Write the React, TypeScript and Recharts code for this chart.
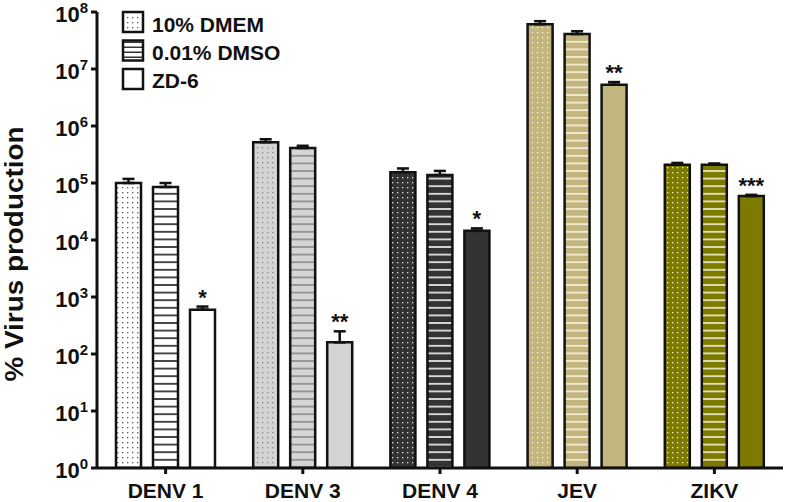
import { BarChart, Bar, XAxis, YAxis, Cell, ErrorBar, LabelList, Legend } from 'recharts';

const categories = ['DENV 1', 'DENV 3', 'DENV 4', 'JEV', 'ZIKV'];
const dmem = [1.0e5, 5.2e5, 1.55e5, 6.1e7, 2.1e5];
const dmemErr = [1.8e4, 6.5e4, 2.5e4, 8e6, 1.5e4];
const dmso = [8.5e4, 4.1e5, 1.38e5, 4.1e7, 2.1e5];
const dmsoErr = [1.5e4, 4e4, 2.5e4, 5e6, 1e4];
const zd6 = [600, 160, 1.45e4, 5.3e6, 5.9e4];
const zd6Err = [80, 90, 1.5e3, 6e5, 3e3];
const stars = ['*', '**', '*', '**', '***'];
const seriesNames = ['10% DMEM', '0.01% DMSO', 'ZD-6'];
const yTicks = [1, 10, 100, 1e3, 1e4, 1e5, 1e6, 1e7, 1e8];

const groupColors = ['#ffffff', '#d4d4d4', '#333333', '#c2b57e', '#7d7a00'];
const dotColors = ['#555555', '#8a8a8a', '#e0e0e0', '#f6f2dc', '#f0f0d8'];
const lineColors = ['#222222', '#8a8a8a', '#f4f4f4', '#f6f2dc', '#f0f0d8'];

const FONT = '"Liberation Sans", Arial, sans-serif';

const data = categories.map((name, i) => ({
  name,
  dmem: dmem[i],
  dmemErr: [0, dmemErr[i]],
  dmso: dmso[i],
  dmsoErr: [0, dmsoErr[i]],
  zd6: zd6[i],
  zd6Err: [0, zd6Err[i]],
}));

const YTick = ({ x, y, payload }: any) => {
  const exp = Math.round(Math.log10(payload.value));
  return (
    <text x={x} y={y + 10} textAnchor="end" fontFamily={FONT} fontWeight="bold" fontSize={22} fill="#111">
      <tspan>10</tspan>
      <tspan dy={-9} fontSize={15}>{exp}</tspan>
    </text>
  );
};

const XTick = ({ x, y, payload }: any) => (
  <text x={x} y={y + 22} textAnchor="middle" fontFamily={FONT} fontWeight="bold" fontSize={21} fill="#111">
    {payload.value}
  </text>
);

// stars sit just above the error cap; cap offset from the bar's own log geometry
const renderStar = (props: any) => {
  const { x, y, width, height, index } = props;
  const v = zd6[index];
  const e = zd6Err[index];
  const pxPerDecade = height / Math.log10(v);
  const capY = y - Math.log10((v + e) / v) * pxPerDecade;
  return (
    <text x={x + width / 2} y={capY - 2} textAnchor="middle" fontFamily={FONT} fontWeight="bold" fontSize={22} fill="#111">
      {stars[index]}
    </text>
  );
};

const swatchFills = ['url(#dots-0)', 'url(#lines-legend)', '#ffffff'];

const renderLegend = () => (
  <svg width={300} height={100} style={{ display: 'block' }}>
    {seriesNames.map((name, i) => (
      <g key={name}>
        <rect x={123} y={12 + i * 28.5} width={20} height={20} fill={swatchFills[i]} stroke="#111" strokeWidth={2.5} />
        <text x={152} y={32 + i * 28} fontFamily={FONT} fontWeight="bold" fontSize={21} fill="#111">
          {name}
        </text>
      </g>
    ))}
  </svg>
);

export default function App() {
  return (
    <div style={{ position: 'absolute', left: 0, top: 0, background: '#fff' }}>
      <BarChart
        width={787}
        height={502}
        data={data}
        margin={{ top: 12, right: 4, left: 30, bottom: 4 }}
        barSize={25}
        barGap={12}
      >
        <defs>
          {groupColors.map((c, i) => (
            <pattern key={`d${i}`} id={`dots-${i}`} width={5} height={5} patternUnits="userSpaceOnUse">
              <rect width={5} height={5} fill={c} />
              <rect x={2} y={2} width={1.3} height={1.3} fill={dotColors[i]} />
            </pattern>
          ))}
          {groupColors.map((c, i) => (
            <pattern key={`l${i}`} id={`lines-${i}`} width={8} height={7.6} patternUnits="userSpaceOnUse">
              <rect width={8} height={7.6} fill={c} />
              <rect y={3} width={8} height={1.6} fill={lineColors[i]} />
            </pattern>
          ))}
          <pattern id="lines-legend" width={8} height={5} patternUnits="userSpaceOnUse">
            <rect width={8} height={5} fill="#fff" />
            <rect y={1.5} width={8} height={1.5} fill="#333" />
          </pattern>
        </defs>
        <XAxis
          dataKey="name"
          height={30}
          axisLine={{ stroke: '#111', strokeWidth: 3 }}
          tickLine={{ stroke: '#111', strokeWidth: 3 }}
          tickSize={6}
          tickMargin={2}
          tick={<XTick />}
          interval={0}
        />
        <YAxis
          scale="log"
          domain={[1, 1e8]}
          ticks={yTicks}
          allowDataOverflow
          width={67}
          axisLine={{ stroke: '#111', strokeWidth: 3 }}
          tickLine={{ stroke: '#111', strokeWidth: 3 }}
          tickSize={6}
          tickMargin={3}
          tick={<YTick />}
          interval={0}
        />
        <Legend
          layout="horizontal"
          verticalAlign="middle"
          align="center"
          wrapperStyle={{ top: 0, left: 0, width: 300, height: 100 }}
          content={renderLegend}
        />
        <Bar dataKey="dmem" name={seriesNames[0]} stroke="#111" strokeWidth={2.5} isAnimationActive={false}>
          {data.map((_, i) => (
            <Cell key={i} fill={`url(#dots-${i})`} />
          ))}
          <ErrorBar dataKey="dmemErr" width={6} stroke="#111" strokeWidth={2.5} />
        </Bar>
        <Bar dataKey="dmso" name={seriesNames[1]} stroke="#111" strokeWidth={2.5} isAnimationActive={false}>
          {data.map((_, i) => (
            <Cell key={i} fill={`url(#lines-${i})`} />
          ))}
          <ErrorBar dataKey="dmsoErr" width={6} stroke="#111" strokeWidth={2.5} />
        </Bar>
        <Bar dataKey="zd6" name={seriesNames[2]} stroke="#111" strokeWidth={2.5} isAnimationActive={false}>
          {data.map((_, i) => (
            <Cell key={i} fill={groupColors[i]} />
          ))}
          <ErrorBar dataKey="zd6Err" width={6} stroke="#111" strokeWidth={2.5} />
          <LabelList dataKey="zd6" content={renderStar} />
        </Bar>
      </BarChart>
      <svg width={40} height={502} style={{ position: 'absolute', left: 0, top: 0, pointerEvents: 'none' }}>
        <text
          x={0}
          y={0}
          transform="translate(23 254) rotate(-90)"
          textAnchor="middle"
          fontFamily={FONT}
          fontWeight="bold"
          fontSize={25}
          fill="#111"
          textLength={255}
          lengthAdjust="spacingAndGlyphs"
        >
          % Virus production
        </text>
      </svg>
    </div>
  );
}
